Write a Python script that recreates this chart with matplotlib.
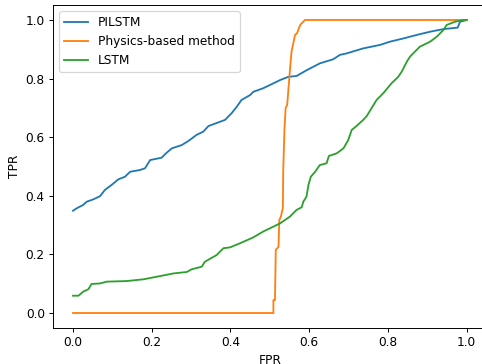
import matplotlib
matplotlib.use("Agg")
import matplotlib.pyplot as plt

# PILSTM roc curve
pilstm_fpr = [0.0, 0.009, 0.026, 0.035, 0.052, 0.069, 0.081, 0.098, 0.115, 0.132,
              0.145, 0.170, 0.183, 0.196, 0.225, 0.238, 0.251, 0.276, 0.293, 0.314,
              0.331, 0.344, 0.386, 0.403, 0.416, 0.428, 0.450, 0.458, 0.483, 0.500,
              0.526, 0.547, 0.568, 0.594, 0.627, 0.661, 0.678, 0.695, 0.737, 0.780,
              0.805, 0.839, 0.873, 0.907, 0.941, 0.977, 0.983, 1.0]
pilstm_tpr = [0.349, 0.357, 0.369, 0.380, 0.388, 0.399, 0.420, 0.437, 0.456, 0.465,
              0.482, 0.488, 0.494, 0.522, 0.530, 0.547, 0.562, 0.573, 0.587, 0.608,
              0.619, 0.638, 0.659, 0.682, 0.704, 0.727, 0.744, 0.755, 0.767, 0.778,
              0.795, 0.806, 0.809, 0.829, 0.852, 0.866, 0.881, 0.886, 0.903, 0.915,
              0.926, 0.937, 0.949, 0.960, 0.969, 0.974, 0.994, 1.0]

# physics-based method
phys_fpr = [0.0, 0.509, 0.509, 0.513, 0.515, 0.522, 0.524, 0.528, 0.533, 0.534,
            0.537, 0.540, 0.544, 0.551, 0.555, 0.564, 0.569, 0.577, 0.589, 1.0]
phys_tpr = [0.0, 0.0, 0.044, 0.044, 0.215, 0.226, 0.317, 0.329, 0.358, 0.488,
            0.625, 0.699, 0.710, 0.829, 0.892, 0.949, 0.955, 0.983, 1.0, 1.0]

# LSTM
lstm_fpr = [0.0, 0.014, 0.026, 0.039, 0.047, 0.069, 0.086, 0.136, 0.179, 0.221,
            0.255, 0.289, 0.301, 0.327, 0.335, 0.365, 0.382, 0.399, 0.424, 0.458,
            0.483, 0.517, 0.526, 0.551, 0.568, 0.581, 0.585, 0.593, 0.598, 0.604,
            0.615, 0.627, 0.644, 0.650, 0.670, 0.687, 0.699, 0.708, 0.720, 0.737,
            0.746, 0.771, 0.788, 0.809, 0.826, 0.835, 0.848, 0.856, 0.881, 0.907,
            0.924, 0.941, 0.949, 0.970, 0.991, 1.0]
lstm_tpr = [0.059, 0.059, 0.073, 0.081, 0.099, 0.101, 0.107, 0.109, 0.115, 0.126,
            0.135, 0.140, 0.149, 0.158, 0.175, 0.198, 0.221, 0.224, 0.238, 0.258,
            0.278, 0.300, 0.306, 0.329, 0.352, 0.361, 0.380, 0.397, 0.437, 0.465,
            0.482, 0.505, 0.511, 0.536, 0.545, 0.562, 0.590, 0.625, 0.638, 0.659,
            0.672, 0.727, 0.750, 0.784, 0.806, 0.824, 0.858, 0.875, 0.909, 0.926,
            0.943, 0.966, 0.983, 0.994, 1.0, 1.0]

DPI = 87.2
fig = plt.figure(figsize=(482.01 / DPI, 364.01 / DPI), dpi=DPI)
# the original is cropped: right spine and part of the x label fall outside
ax = fig.add_axes([53.3 / 482, 36.35 / 364, 433.1 / 482, 322.3 / 364])

ax.plot(pilstm_fpr, pilstm_tpr, label="PILSTM")
ax.plot(phys_fpr, phys_tpr, label="Physics-based method")
ax.plot(lstm_fpr, lstm_tpr, label="LSTM")

ax.set_xlabel("FPR")
ax.set_ylabel("TPR")
ax.legend(loc="upper left")

fig.savefig("out.png", dpi=DPI)
